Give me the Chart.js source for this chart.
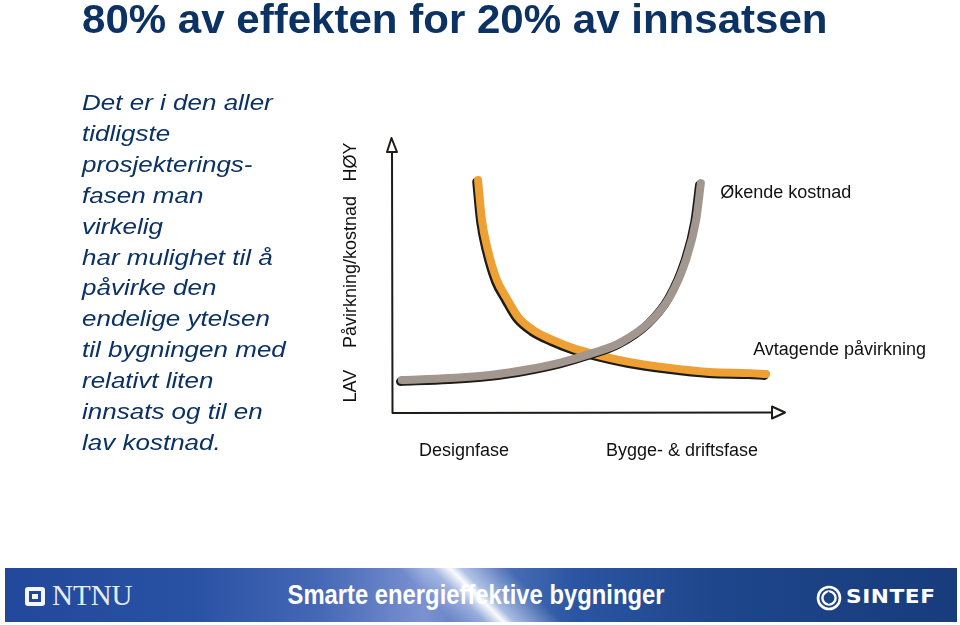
<!DOCTYPE html>
<html>
<head>
<meta charset="utf-8">
<script src="https://cdn.jsdelivr.net/npm/chart.js@4.4.1/dist/chart.umd.min.js"></script>
<style>
  html, body { margin:0; padding:0; background:#ffffff; }
  body { width:960px; height:625px; position:relative; overflow:hidden; font-family:"Liberation Sans", Arial, sans-serif; }
  #chartWrap { position:absolute; left:0; top:0; width:960px; height:625px; }
  .title { position:absolute; left:82px; top:-1px; font-weight:bold; font-size:48px; line-height:48px; color:#0c3264; white-space:nowrap; transform-origin:left top; transform:scale(0.876,0.84); }
  .para { position:absolute; left:82px; top:88px; font-style:italic; font-size:26px; line-height:35.9px; color:#0c3264; white-space:nowrap; transform-origin:left top; transform:scaleY(0.86); }
  .footer { position:absolute; left:5px; top:568px; width:952px; height:54px; overflow:hidden;
    background: linear-gradient(90deg, #21489a 0%, #2a52a4 20%, #4567b6 33%, #7a92d0 44%, #4d70b7 52%, #2a55a2 60%, #1e468c 75%, #183c7c 100%); }
  .streak { position:absolute; left:420px; top:-10px; width:110px; height:74px; transform:skewX(45deg);
    background: linear-gradient(90deg, rgba(255,255,255,0) 0%, rgba(215,225,250,0.5) 30%, rgba(255,255,255,0.97) 47%, rgba(230,238,255,0.6) 57%, rgba(255,255,255,0) 100%); }
  .ftext { position:absolute; left:471px; top:13px; font-weight:bold; font-size:28px; line-height:28px; color:#ffffff; white-space:nowrap; transform:translateX(-50%) scaleX(0.85); }
  .ntnu { position:absolute; left:47px; top:13px; font-family:"Liberation Serif", "Times New Roman", serif; font-size:29px; line-height:29px; color:#e6ebf6; }
  .ntnuIcon { position:absolute; left:20px; top:19px; width:20px; height:19px; background:#f4f6fb; border-radius:3px; }
  .ntnuIcon i { position:absolute; left:4px; top:4px; width:12px; height:11px; background:#21489a; }
  .ntnuIcon b { position:absolute; left:7px; top:7px; width:6px; height:5px; background:#f4f6fb; }
  .sintef { position:absolute; left:841px; top:19px; font-family:"DejaVu Sans", sans-serif; font-weight:bold; font-size:19px; line-height:19px; letter-spacing:0.5px; color:#ffffff; transform-origin:left top; transform:scaleX(1.14); }
  .sintefIcon { position:absolute; left:811px; top:17px; }
</style>
</head>
<body>
<div id="chartWrap"><canvas id="c" width="960" height="625"></canvas></div>

<div class="title">80% av effekten for 20% av innsatsen</div>
<div class="para">Det er i den aller<br>tidligste<br>prosjekterings-<br>fasen man<br>virkelig<br>har mulighet til å<br>påvirke den<br>endelige ytelsen<br>til bygningen med<br>relativt liten<br>innsats og til en<br>lav kostnad.</div>

<div class="footer">
  <div class="streak"></div>
  <div class="ntnuIcon"><i></i><b></b></div>
  <div class="ntnu">NTNU</div>
  <div class="ftext">Smarte energieffektive bygninger</div>
  <svg class="sintefIcon" width="26" height="26" viewBox="0 0 26 26">
    <circle cx="13" cy="13" r="11" fill="none" stroke="#ffffff" stroke-width="2.6"/>
    <circle cx="13" cy="13" r="6.6" fill="none" stroke="#ffffff" stroke-width="2.4"/>
    <path d="M13 7 C10.5 9.5 15.5 11.5 13 14 C11.5 15.5 12.5 17.5 13.5 18.4" fill="none" stroke="#1f468c" stroke-width="1.9"/>
  </svg>
  <div class="sintef">SINTEF</div>
</div>

<script>
// ---- data ----
const seriesNames = ['Økende kostnad', 'Avtagende påvirkning'];
const stageLabels = ['Designfase', 'Bygge- & driftsfase'];
const stagePositions = [18.3, 73.8];
const levelLabels = ['LAV', 'Påvirkning/kostnad', 'HØY'];
const levelPositions = [9.8, 51.3, 91.3];

const costX = [2.5, 14.8, 24.9, 35.1, 43.3, 50.4, 58.0, 65.6, 70.7, 74.8, 77.4, 78.6];
const costY = [12.0, 12.7, 13.8, 16.0, 18.5, 21.5, 25.5, 33.1, 42.2, 55.6, 70.2, 83.6];

const impactX = [21.9, 22.9, 24.4, 26.7, 29.3, 32.1, 35.9, 41.0, 46.1, 50.4, 60.6, 70.7, 80.9, 91.1, 95.2];
const impactY = [84.7, 70.2, 59.3, 48.4, 41.5, 34.9, 30.2, 26.5, 23.6, 21.8, 18.5, 16.4, 14.9, 14.5, 14.2];

const pts = (xs, ys) => xs.map((x, i) => ({ x: x, y: ys[i] }));

const INK = '#1e1b18';
const ORANGE = '#EFA035';
const GRAY = '#A1978E';

function lineDs(label, data, color, width, order, underlay) {
  return {
    label: label, data: data, borderColor: color, borderWidth: width,
    pointRadius: 0, pointHoverRadius: 0, fill: false,
    cubicInterpolationMode: 'monotone', borderCapStyle: 'round', borderJoinStyle: 'round',
    clip: false, order: order, underlay: underlay
  };
}

const decorPlugin = {
  id: 'decor',
  beforeDatasetDraw(chart, args) {
    const ds = chart.data.datasets[args.index];
    chart.ctx.save();
    if (ds.underlay) chart.ctx.translate(-1.6, 1.7);
  },
  afterDatasetDraw(chart) { chart.ctx.restore(); },
  beforeDatasetsDraw(chart) {
    const { ctx, chartArea: ca } = chart;
    ctx.save();
    ctx.strokeStyle = INK; ctx.lineWidth = 2; ctx.lineJoin = 'round'; ctx.lineCap = 'round';
    const x0 = ca.left, y0 = ca.bottom;
    ctx.beginPath();
    ctx.moveTo(x0, ca.top + 14);
    ctx.lineTo(x0 + 0.5, y0);
    ctx.lineTo(ca.right - 13, y0 - 0.5);
    ctx.stroke();
    ctx.beginPath();
    ctx.moveTo(x0 - 5, ca.top + 14); ctx.lineTo(x0 + 5, ca.top + 14); ctx.lineTo(x0 - 0.5, ca.top); ctx.closePath();
    ctx.stroke();
    ctx.beginPath();
    ctx.moveTo(ca.right - 13, y0 - 6.5); ctx.lineTo(ca.right - 13, y0 + 5.5); ctx.lineTo(ca.right, y0 - 0.5); ctx.closePath();
    ctx.stroke();
    ctx.restore();
  },
  afterDraw(chart) {
    const { ctx, chartArea: ca, scales } = chart;
    const xs = scales.x, ys = scales.y;
    ctx.save();
    ctx.fillStyle = '#111111';
    ctx.font = '18px "Liberation Sans", Arial, sans-serif';
    ctx.textAlign = 'center'; ctx.textBaseline = 'alphabetic';
    stageLabels.forEach((t, i) => ctx.fillText(t, xs.getPixelForValue(stagePositions[i]), ca.bottom + 43));
    levelLabels.forEach((t, i) => {
      ctx.save();
      ctx.translate(ca.left - 36, ys.getPixelForValue(levelPositions[i]));
      ctx.rotate(-Math.PI / 2);
      ctx.textAlign = 'center';
      ctx.fillText(t, 0, 0);
      ctx.restore();
    });
    ctx.textAlign = 'left';
    ctx.fillText(seriesNames[0], xs.getPixelForValue(83.5), ys.getPixelForValue(78.2));
    ctx.fillText(seriesNames[1], xs.getPixelForValue(91.9), ys.getPixelForValue(21.1));
    ctx.restore();
  }
};

new Chart(document.getElementById('c'), {
  type: 'line',
  data: {
    datasets: [
      lineDs(seriesNames[0], pts(costX, costY), GRAY, 8, 1, false),
      lineDs(seriesNames[0], pts(costX, costY), INK, 8.5, 2, true),
      lineDs(seriesNames[1], pts(impactX, impactY), ORANGE, 8, 3, false),
      lineDs(seriesNames[1], pts(impactX, impactY), INK, 8.5, 4, true)
    ]
  },
  options: {
    responsive: false,
    animation: false,
    events: [],
    layout: { padding: { left: 392, right: 175, top: 138, bottom: 212 } },
    plugins: { legend: { display: false }, tooltip: { enabled: false } },
    scales: {
      x: { type: 'linear', min: 0, max: 100, display: false },
      y: { type: 'linear', min: 0, max: 100, display: false }
    }
  },
  plugins: [decorPlugin]
});
</script>
</body>
</html>
